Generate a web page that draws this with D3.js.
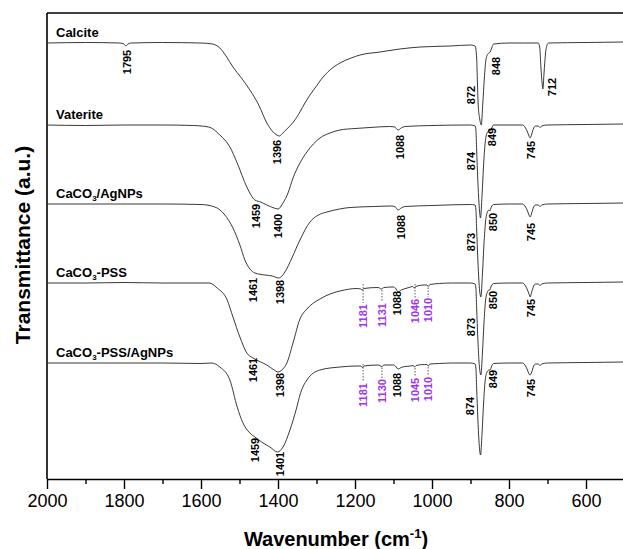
<!DOCTYPE html>
<html>
<head>
<meta charset="utf-8">
<script src="https://cdn.jsdelivr.net/npm/d3@7/dist/d3.min.js"></script>
<style>
  body { margin: 0; background: #fff; }
  text { font-family: Arial, "Liberation Sans", sans-serif; }
</style>
</head>
<body>
<div id="chart"></div>
<script>
// FTIR spectra, [wavenumber (cm-1), transmittance relative to the sample baseline]
var calcite = [[2000,0],[1900,0.5],[1810,0],[1800,-1],[1795,-3],[1790,-1],[1780,0],[1700,0.5],[1600,0],[1570,-1],[1551,-5],[1535,-13],[1517,-24],[1495,-35],[1473,-47],[1450,-62],[1429,-80],[1415,-88],[1403,-92],[1396,-93],[1390,-91],[1377,-86],[1360,-79],[1343,-69],[1330,-60],[1317,-52],[1300,-43],[1291,-38],[1265,-27],[1239,-20],[1210,-15],[1187,-12],[1135,-9],[1083,-6],[1031,-4],[953,-3],[900,-2],[888,-3],[884,-15],[882,-40],[880,-62],[876,-76],[872,-82],[868,-60],[864,-35],[860,-17],[855,-11],[849,-9],[845,-5],[840,-1],[800,0],[760,0],[724,0],[720,-5],[717,-25],[714,-40],[712,-46],[709,-30],[705,-10],[701,-2],[697,0],[600,0.5],[500,1]];

var vaterite = [[2000,0],[1900,-0.5],[1800,0],[1700,0],[1620,-0.5],[1580,-2],[1551,-10],[1525,-22],[1506,-38],[1481,-62],[1460,-75],[1445,-77],[1429,-80],[1410,-83],[1400,-84],[1387,-78],[1374,-68],[1361,-53],[1343,-38],[1325,-27],[1291,-13],[1265,-8],[1239,-5],[1200,-3.5],[1161,-2.5],[1110,-1.5],[1097,-2],[1088,-5],[1080,-3],[1070,-1.5],[1000,-0.5],[900,0],[888,-1],[886,-5],[884,-25],[881,-55],[878,-78],[874,-93],[870,-70],[866,-40],[862,-18],[857,-8],[852,-6],[849,-6],[845,-3],[840,0],[800,0],[765,0],[757,-3],[752,-7],[748,-11],[745,-13],[741,-9],[736,-3],[731,-1],[724,-1],[719,-2.5],[715,-1],[700,0],[600,0.5],[500,1]];

var caco3Ag = [[2000,0],[1900,0],[1800,0],[1700,0],[1600,-0.5],[1564,-3],[1538,-11],[1517,-24],[1499,-41],[1486,-56],[1473,-65],[1460,-69],[1434,-71],[1415,-72],[1398,-74],[1382,-68],[1364,-54],[1343,-36],[1317,-18],[1295,-11],[1273,-8],[1240,-5],[1213,-3.5],[1150,-2.5],[1105,-2],[1095,-3],[1088,-6],[1080,-4],[1070,-2.5],[1000,-1.5],[900,-0.5],[888,-1],[886,-5],[884,-25],[881,-55],[878,-78],[873,-93],[869,-70],[865,-40],[861,-18],[856,-8],[852,-6],[850,-7],[846,-3],[840,-0.5],[800,0],[765,0],[757,-3],[752,-7],[748,-11],[745,-13],[741,-9],[736,-3],[731,-1],[724,-1],[719,-2.5],[715,-1],[700,0],[600,0.5],[500,1]];

var caco3Pss = [[2000,0],[1900,0],[1800,0.5],[1700,0],[1600,0],[1579,0],[1558,-5],[1532,-17],[1517,-34],[1499,-54],[1481,-70],[1465,-75],[1445,-79],[1429,-82],[1410,-87],[1400,-89],[1390,-87],[1377,-80],[1361,-60],[1343,-36],[1325,-26],[1291,-16],[1265,-11],[1239,-8],[1195,-5.5],[1185,-6],[1181,-7],[1177,-5.5],[1140,-4.5],[1131,-6],[1125,-4.5],[1100,-4],[1095,-5],[1088,-9],[1080,-7],[1073,-6],[1060,-4.5],[1050,-3.5],[1046,-5],[1042,-3.5],[1020,-2],[1013,-2],[1010,-3.5],[1005,-1.5],[980,-0.5],[950,0],[900,0],[888,-1],[886,-5],[884,-25],[881,-55],[878,-78],[873,-92],[869,-70],[865,-40],[861,-18],[856,-9],[852,-7],[850,-7],[846,-3],[840,-0.5],[800,0],[765,0],[757,-3],[752,-7],[748,-11],[745,-14],[741,-9],[736,-3],[731,-1],[724,-1],[719,-2.5],[715,-1],[700,0],[600,0.5],[500,1]];

var caco3PssAg = [[2000,0],[1900,0],[1800,0],[1700,0],[1600,-0.5],[1574,0],[1551,-4],[1525,-17],[1506,-44],[1491,-60],[1473,-70],[1460,-74],[1439,-80],[1421,-84],[1401,-89],[1387,-84],[1369,-67],[1351,-44],[1343,-32],[1325,-17],[1291,-7],[1239,-4],[1195,-3],[1185,-3],[1181,-4.5],[1177,-3],[1140,-2],[1130,-3.5],[1125,-2],[1100,-2],[1095,-3],[1088,-6],[1080,-4.5],[1070,-3.5],[1055,-3],[1049,-2.5],[1045,-4],[1041,-2.5],[1020,-1.5],[1013,-1.5],[1010,-3],[1005,-1],[980,-0.5],[950,0],[900,0],[888,-1],[886,-5],[884,-25],[881,-55],[878,-78],[874,-92],[870,-70],[866,-40],[862,-18],[857,-9],[852,-7],[849,-7],[845,-3],[840,-0.5],[800,0],[765,0],[757,-3],[752,-7],[748,-11],[745,-12],[741,-9],[736,-3],[731,-1],[724,-1],[719,-2.5],[715,-1],[700,0],[600,0.5],[500,1]];

var sampleNames = ["Calcite", "Vaterite", "CaCO3/AgNPs", "CaCO3-PSS", "CaCO3-PSS/AgNPs"];
// vertical stacking offset of each spectrum (a.u.)
var sampleOffsets = [436, 354, 275, 196, 116];

// band labels: [text, wavenumber, offset from baseline]
var calciteBands = [["1795",1792,-19],["1396",1403,-109],["872",899,-52],["848",834,-23],["712",688,-44]];
var vateriteBands = [["1459",1457,-91],["1400",1400,-101],["1088",1083,-22],["874",899,-36],["849",844,-12],["745",743,-25]];
var caco3AgBands = [["1461",1465,-86],["1398",1395,-88],["1088",1081,-23],["873",899,-38],["850",842,-18],["745",743,-28]];
var caco3PssBands = [["1461",1465,-87],["1398",1395,-102],["1181",1179,-33],["1131",1130,-32],["1088",1091,-20],["1046",1044,-28],["1010",1010,-27],["873",899,-44],["850",842,-17],["745",743,-25]];
var caco3PssAgBands = [["1459",1460,-87],["1401",1395,-101],["1181",1179,-32],["1130",1130,-28],["1088",1091,-22],["1045",1044,-27],["1010",1010,-26],["874",901,-43],["849",842,-16],["745",743,-25]];
// PSS sulfonate bands, marked in purple with a dotted leader
var pssBandLabels = ["1181", "1131", "1130", "1046", "1045", "1010"];

var xTicks = [2000, 1800, 1600, 1400, 1200, 1000, 800, 600];
var xMinorTicks = [1900, 1700, 1500, 1300, 1100, 900, 700, 500];

var spectra = [calcite, vaterite, caco3Ag, caco3Pss, caco3PssAg];
var bandSets = [calciteBands, vateriteBands, caco3AgBands, caco3PssBands, caco3PssAgBands];

var width = 623, height = 549;
var margin = {top: 13, left: 47, bottom: 70};
var purple = "#a033f0";

var svg = d3.select("#chart").append("svg")
	.attr("width", width)
	.attr("height", height);

var x = d3.scaleLinear().domain([2000, 500]).range([margin.left, 624.5]);
var y = d3.scaleLinear().domain([0, 466]).range([height - margin.bottom, margin.top]);

// frame: top and left lines (right edge runs off the page)
svg.append("line")
	.attr("x1", x(2000)).attr("x2", x(500))
	.attr("y1", y(466)).attr("y2", y(466))
	.attr("stroke", "#000").attr("stroke-width", 1.6);
svg.append("line")
	.attr("x1", x(2000)).attr("x2", x(2000))
	.attr("y1", y(466)).attr("y2", y(0))
	.attr("stroke", "#000").attr("stroke-width", 1.6);

// x axis
var xAxis = svg.append("g")
	.attr("transform", "translate(0," + y(0) + ")")
	.call(d3.axisBottom(x).tickValues(xTicks).tickFormat(d3.format("d"))
		.tickSizeInner(10).tickSizeOuter(0).tickPadding(5));
xAxis.select(".domain").attr("stroke-width", 1.6);
xAxis.selectAll(".tick line").attr("stroke-width", 1.4);
xAxis.selectAll(".tick text")
	.attr("font-size", 18)
	.attr("font-family", "Arial, 'Liberation Sans', sans-serif")
	.attr("fill", "#000");
var minor = svg.append("g")
	.attr("transform", "translate(0," + y(0) + ")")
	.call(d3.axisBottom(x).tickValues(xMinorTicks).tickSize(5).tickFormat(""));
minor.select(".domain").remove();
minor.selectAll(".tick line").attr("stroke-width", 1.4);

// axis titles
var xt = svg.append("text")
	.attr("x", 336).attr("y", 546)
	.attr("text-anchor", "middle")
	.attr("font-size", 20).attr("font-weight", "bold");
xt.append("tspan").text("Wavenumber (cm");
xt.append("tspan").attr("dy", -8).attr("font-size", 13).text("-1");
xt.append("tspan").attr("dy", 8).text(")");

svg.append("text")
	.attr("transform", "translate(30,245) rotate(-90)")
	.attr("text-anchor", "middle")
	.attr("font-size", 21).attr("font-weight", "bold")
	.text("Transmittance (a.u.)");

var line = d3.line().curve(d3.curveMonotoneX);

spectra.forEach(function(data, i) {
	var off = sampleOffsets[i];
	var g = svg.append("g").attr("class", "sample");

	g.append("path")
		.datum(data)
		.attr("fill", "none")
		.attr("stroke", "#222")
		.attr("stroke-width", 0.9)
		.attr("d", line.x(function(d) { return x(d[0]); }).y(function(d) { return y(off + d[1]); }));

	// sample name, CO3 written with subscript
	var name = g.append("text")
		.attr("x", x(2000) + 9)
		.attr("y", y(off) - 6)
		.attr("font-size", 13).attr("font-weight", "bold");
	var parts = sampleNames[i].split("CO3");
	if (parts.length > 1) {
		name.append("tspan").text(parts[0] + "CO");
		name.append("tspan").attr("dy", 3).attr("font-size", 8).text("3");
		name.append("tspan").attr("dy", -3).text(parts[1]);
	} else {
		name.text(sampleNames[i]);
	}

	bandSets[i].forEach(function(b) {
		var isPss = pssBandLabels.indexOf(b[0]) >= 0;
		var lx = x(b[1]), ly = y(off + b[2]);
		if (isPss) {
			// dotted leader from the spectrum down to the label
			var pt = data.find(function(d) { return Math.abs(d[0] - b[1]) <= 1; });
			var top = pt ? y(off + pt[1]) : y(off);
			g.append("line")
				.attr("x1", lx).attr("x2", lx)
				.attr("y1", top + 1).attr("y2", ly - 13)
				.attr("stroke", "#333").attr("stroke-width", 0.8)
				.attr("stroke-dasharray", "1.5,1.5");
		}
		g.append("text")
			.attr("transform", "translate(" + lx + "," + ly + ") rotate(-90)")
			.attr("text-anchor", "middle")
			.attr("dominant-baseline", "central")
			.attr("font-size", 11).attr("font-weight", "bold")
			.attr("fill", isPss ? purple : "#000")
			.text(b[0]);
	});
});
</script>
</body>
</html>
